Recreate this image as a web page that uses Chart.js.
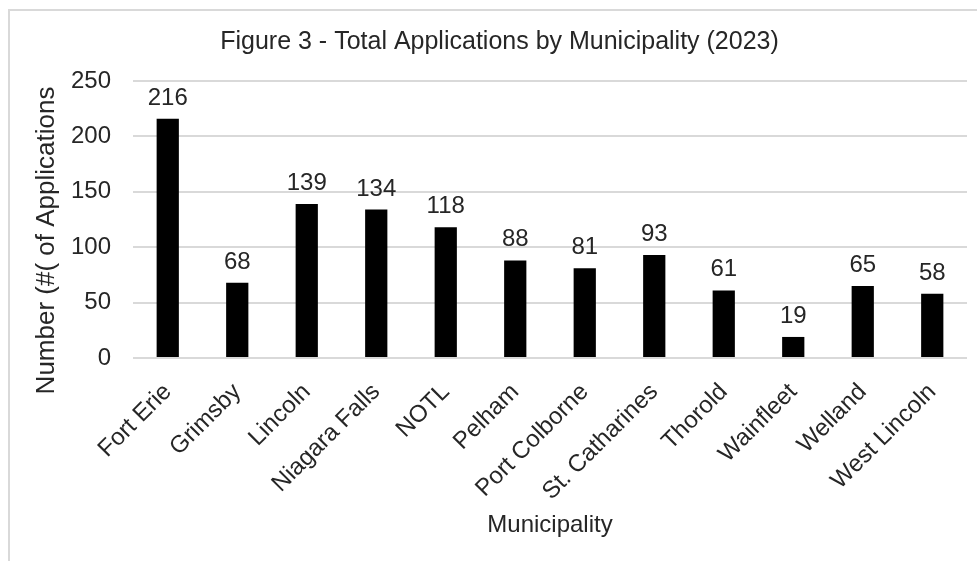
<!DOCTYPE html>
<html>
<head>
<meta charset="utf-8">
<script src="https://cdn.jsdelivr.net/npm/chart.js@4"></script>
<style>
  html, body { margin: 0; padding: 0; background: #fff; }
  body { width: 977px; height: 561px; overflow: hidden; position: relative; }
  .frame {
    position: absolute; left: 8px; top: 9px; width: 1200px; height: 800px;
    border: 2px solid #d9d9d9; box-sizing: border-box;
  }
  .wrap { position: absolute; left: 0; top: 0; width: 977px; height: 561px; }
</style>
</head>
<body>
<div class="frame"></div>
<div class="wrap"><canvas id="chart"></canvas></div>
<script>
  const municipalities = [
    "Fort Erie", "Grimsby", "Lincoln", "Niagara Falls", "NOTL", "Pelham",
    "Port Colborne", "St. Catharines", "Thorold", "Wainfleet", "Welland", "West Lincoln"
  ];
  const applications = [216, 68, 139, 134, 118, 88, 81, 93, 61, 19, 65, 58];
  const yTicks = [0, 50, 100, 150, 200, 250];

  const chartTitle = "Figure 3 - Total Applications by Municipality (2023)";
  const xTitle = "Municipality";
  const yTitle = "Number (#( of Applications";

  const FONT = "'Liberation Sans', Arial, sans-serif";
  const TEXT = "#262626";

  // value labels above each bar
  const barLabels = {
    id: "barLabels",
    afterDatasetsDraw(chart) {
      const ctx = chart.ctx;
      const meta = chart.getDatasetMeta(0);
      ctx.save();
      ctx.font = "24px " + FONT;
      ctx.fillStyle = TEXT;
      ctx.textAlign = "center";
      ctx.textBaseline = "alphabetic";
      meta.data.forEach((bar, i) => {
        ctx.fillText(String(applications[i]), bar.x, bar.y - 14);
      });
      ctx.restore();
    },
  };

  // chart title and rotated y axis title, placed like the original
  const titles = {
    id: "titles",
    afterDraw(chart) {
      const ctx = chart.ctx;
      const area = chart.chartArea;
      ctx.save();
      ctx.fillStyle = TEXT;
      ctx.textAlign = "center";
      ctx.textBaseline = "alphabetic";
      ctx.font = "25px " + FONT;
      ctx.fillText(chartTitle, chart.width / 2 + 11, 49);

      ctx.translate(chart.scales.y.left + 47, (area.top + area.bottom) / 2 + 21);
      ctx.rotate(-Math.PI / 2);
      ctx.font = "26px " + FONT;
      ctx.textBaseline = "middle";
      ctx.fillText(yTitle, 0, 0);
      ctx.restore();
    },
  };

  new Chart(document.getElementById("chart"), {
    type: "bar",
    data: {
      labels: municipalities,
      datasets: [
        {
          data: applications,
          backgroundColor: "#000000",
          borderWidth: 0,
          barPercentage: 0.32,
          categoryPercentage: 1,
        },
      ],
    },
    options: {
      responsive: true,
      maintainAspectRatio: false,
      animation: false,
      layout: { padding: { left: 0, right: 10, top: 81, bottom: 0 } },
      plugins: {
        legend: { display: false },
        tooltip: { enabled: false },
        title: { display: false },
      },
      scales: {
        x: {
          grid: { display: false, drawTicks: false },
          border: { display: false },
          ticks: {
            color: TEXT,
            font: { family: FONT, size: 24 },
            minRotation: 45,
            maxRotation: 45,
            autoSkip: false,
            padding: 20,
            labelOffset: 0,
          },
          title: {
            display: true,
            text: xTitle,
            color: TEXT,
            font: { family: FONT, size: 24 },
            padding: { top: 0, bottom: 21 },
          },
          afterFit(scale) { scale.height = 203; },
        },
        y: {
          min: 0,
          max: 250,
          afterBuildTicks(scale) { scale.ticks = yTicks.map((v) => ({ value: v })); },
          grid: { color: "#d9d9d9", lineWidth: 2, drawTicks: false },
          border: { display: false },
          ticks: {
            color: TEXT,
            font: { family: FONT, size: 24 },
            padding: 22,
          },
          title: { display: false },
          afterFit(scale) { scale.width = 133; },
        },
      },
    },
    plugins: [barLabels, titles],
  });
</script>
</body>
</html>
